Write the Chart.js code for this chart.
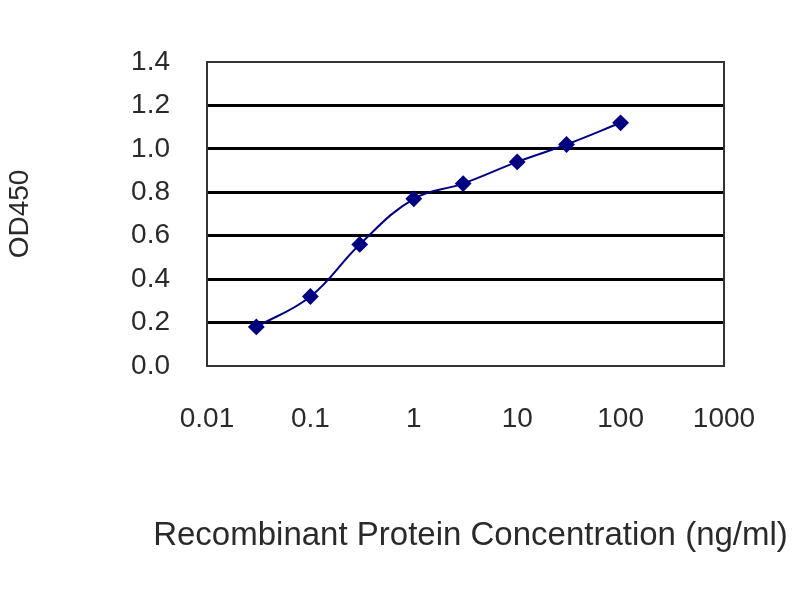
<!DOCTYPE html>
<html>
<head>
<meta charset="utf-8">
<script src="https://cdn.jsdelivr.net/npm/chart.js@4"></script>
<style>
  html, body { margin: 0; padding: 0; background: #fff; }
  #wrap { width: 800px; height: 600px; }
</style>
</head>
<body>
<div id="wrap"><canvas id="myChart" width="800" height="600"></canvas></div>
<script>
// concentration (ng/ml) and measured OD450
const concentrations = [0.03, 0.1, 0.3, 1, 3, 10, 30, 100];
const od450 = [0.18, 0.32, 0.56, 0.77, 0.84, 0.94, 1.02, 1.12];
const xTicks = [0.01, 0.1, 1, 10, 100, 1000];
const yTicks = [0, 0.2, 0.4, 0.6, 0.8, 1.0, 1.2, 1.4];
const xTitle = 'Recombinant Protein Concentration (ng/ml)';

const FONT = 'Liberation Sans, Arial, sans-serif';

const plotBorder = {
  id: 'plotBorder',
  afterDatasetsDraw(chart) {
    const { ctx, chartArea: a } = chart;
    ctx.save();
    ctx.strokeStyle = '#333';
    ctx.lineWidth = 2;
    ctx.strokeRect(a.left, a.top, a.right - a.left, a.bottom - a.top);
    ctx.restore();
  }
};

// x title is wider than the plot, so draw it without chart.js shrinking it
const wideXTitle = {
  id: 'wideXTitle',
  afterDraw(chart) {
    const { ctx, chartArea: a } = chart;
    ctx.save();
    ctx.fillStyle = '#2a2a2a';
    ctx.font = '33px ' + FONT;
    ctx.textAlign = 'center';
    ctx.textBaseline = 'middle';
    ctx.fillText(xTitle, (a.left + a.right) / 2 + 5, 536);
    ctx.restore();
  }
};

const ctx = document.getElementById('myChart').getContext('2d');
new Chart(ctx, {
  type: 'line',
  data: {
    datasets: [{
      label: 'OD450',
      data: concentrations.map((c, i) => ({ x: c, y: od450[i] })),
      borderColor: '#000080',
      backgroundColor: '#000080',
      borderWidth: 2,
      tension: 0.4,
      pointStyle: 'rectRot',
      pointRadius: 7,
      pointHoverRadius: 7
    }]
  },
  options: {
    responsive: false,
    animation: false,
    events: [],
    layout: { padding: { left: 0, top: 62, right: 76, bottom: 0 } },
    plugins: {
      legend: { display: false },
      tooltip: { enabled: false }
    },
    scales: {
      x: {
        type: 'logarithmic',
        min: 0.01,
        max: 1000,
        afterBuildTicks: scale => { scale.ticks = xTicks.map(v => ({ value: v })); },
        afterFit: scale => { scale.height = 234; },
        grid: { display: false, drawTicks: false },
        border: { display: true, color: '#000', width: 2 },
        ticks: {
          padding: 36,
          color: '#2a2a2a',
          font: { family: FONT, size: 28 },
          callback: v => String(v),
          maxRotation: 0,
          autoSkip: false
        },
        title: { display: false }
      },
      y: {
        min: 0,
        max: 1.4,
        afterBuildTicks: scale => { scale.ticks = yTicks.map(v => ({ value: v })); },
        afterFit: scale => { scale.width = 207; },
        grid: {
          drawTicks: false,
          color: '#000',
          lineWidth: c => (c.index === 0 || c.index === yTicks.length - 1) ? 0 : 3
        },
        border: { display: true, color: '#000', width: 2 },
        ticks: {
          padding: 37,
          color: '#2a2a2a',
          font: { family: FONT, size: 28 },
          callback: v => v.toFixed(1)
        },
        title: {
          display: true,
          text: 'OD450',
          color: '#2a2a2a',
          font: { family: FONT, size: 28 },
          padding: { top: 3, bottom: 0 }
        }
      }
    }
  },
  plugins: [plotBorder, wideXTitle]
});
</script>
</body>
</html>
